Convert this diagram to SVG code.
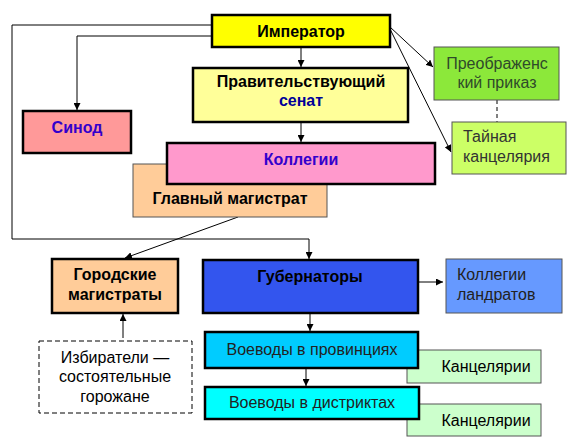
<svg xmlns="http://www.w3.org/2000/svg" width="578" height="443" viewBox="0 0 578 443">
<defs>
<marker id="ah" viewBox="0 0 10 10" refX="10" refY="5" markerWidth="7" markerHeight="7" markerUnits="userSpaceOnUse" orient="auto">
<path d="M0,0 L10,5 L0,10 z" fill="#000"/>
</marker>
<style>
.thick{stroke:#000;stroke-width:2.5}
.thin{stroke:#555;stroke-width:1}
.b{font-family:"Liberation Sans",Arial,sans-serif;font-weight:bold;font-size:16px;text-anchor:middle}
.r{font-family:"Liberation Sans",Arial,sans-serif;font-size:16px}
.c{stroke:#000;stroke-width:1;fill:none}
</style>
</defs>
<rect width="578" height="443" fill="#fff"/>
<g id="connectors">
<polyline class="c" points="212,25 12,25 12,239 309,239 309,259" marker-end="url(#ah)"/>
<polyline class="c" points="212,36 77,36 77,110" marker-end="url(#ah)"/>
<line class="c" x1="301" y1="47" x2="301" y2="67" marker-end="url(#ah)"/>
<line class="c" x1="301" y1="122" x2="301" y2="142" marker-end="url(#ah)"/>
<line class="c" x1="390" y1="27" x2="433" y2="67" marker-end="url(#ah)"/>
<line class="c" x1="390" y1="29" x2="451" y2="152" marker-end="url(#ah)"/>
<line class="c" x1="497" y1="100" x2="497" y2="122" stroke-dasharray="4,3"/>
<line class="c" x1="238" y1="217" x2="125" y2="258" marker-end="url(#ah)"/>
<line class="c" x1="123" y1="338" x2="123" y2="314" marker-end="url(#ah)"/>
<line class="c" x1="418" y1="282" x2="443" y2="282" marker-end="url(#ah)"/>
<line class="c" x1="310" y1="313" x2="310" y2="331" marker-end="url(#ah)"/>
<line class="c" x1="306" y1="368" x2="306" y2="386" marker-end="url(#ah)"/>
</g>
<g id="imperator">
<rect x="212" y="15" width="178" height="32" fill="#ffff00" class="thick"/>
<text class="b" x="301" y="37">Император</text>
</g>
<g id="senat">
<rect x="193" y="68" width="215" height="54" fill="#ffff99" class="thick"/>
<text class="b" x="301" y="87">Правительствующий</text>
<text class="b" x="301" y="106" fill="#000099">сенат</text>
</g>
<g id="sinod">
<rect x="23" y="111" width="108" height="42" fill="#ff9999" class="thick"/>
<text class="b" x="77" y="133" fill="#3300cc">Синод</text>
</g>
<g id="glavmag">
<rect x="133" y="164" width="194" height="53" fill="#ffcc99" class="thin"/>
<text class="b" x="230" y="204">Главный магистрат</text>
</g>
<g id="kollegii">
<rect x="167" y="143" width="268" height="41" fill="#ff99cc" class="thick"/>
<text class="b" x="301" y="165" fill="#3300cc">Коллегии</text>
</g>
<g id="preobr">
<rect x="434" y="47" width="125" height="53" fill="#8ce83a" class="thin"/>
<text class="r" x="497" y="69" text-anchor="middle" fill="#2f4a2a">Преображенс</text>
<text class="r" x="497" y="88" text-anchor="middle" fill="#2f4a2a">кий приказ</text>
</g>
<g id="tainaya">
<rect x="452" y="122" width="114" height="52" fill="#ccff66" class="thin"/>
<text class="r" x="463" y="142" fill="#333">Тайная</text>
<text class="r" x="463" y="162" fill="#333">канцелярия</text>
</g>
<g id="gorodmag">
<rect x="52" y="259" width="126" height="54" fill="#ffcc99" class="thick"/>
<text class="b" x="115" y="280">Городские</text>
<text class="b" x="115" y="300">магистраты</text>
</g>
<g id="izbirateli">
<rect x="39" y="341" width="153" height="72" fill="#fff" stroke="#000" stroke-width="1" stroke-dasharray="5,3"/>
<text class="r" x="115" y="363" text-anchor="middle">Избиратели —</text>
<text class="r" x="115" y="382" text-anchor="middle">состоятельные</text>
<text class="r" x="115" y="402" text-anchor="middle">горожане</text>
</g>
<g id="gubernatory">
<rect x="203" y="260" width="215" height="53" fill="#3355ee" class="thick"/>
<text class="b" x="310" y="282">Губернаторы</text>
</g>
<g id="landraty">
<rect x="446" y="259" width="116" height="54" fill="#6699ff" class="thin"/>
<text class="r" x="457" y="280" fill="#222">Коллегии</text>
<text class="r" x="457" y="300" fill="#222">ландратов</text>
</g>
<g id="kanc1">
<rect x="407" y="350" width="134" height="33" fill="#ccffcc" class="thin"/>
<text class="r" x="486" y="372" text-anchor="middle">Канцелярии</text>
</g>
<g id="voevody-prov">
<rect x="205" y="332" width="213" height="36" fill="#00ccff" class="thick"/>
<text class="r" x="312" y="355" text-anchor="middle" fill="#222">Воеводы в провинциях</text>
</g>
<g id="kanc2">
<rect x="407" y="404" width="134" height="32" fill="#ccffcc" class="thin"/>
<text class="r" x="486" y="426" text-anchor="middle">Канцелярии</text>
</g>
<g id="voevody-distr">
<rect x="205" y="387" width="214" height="32" fill="#00ffff" class="thick"/>
<text class="r" x="312" y="408" text-anchor="middle" fill="#222">Воеводы в дистриктах</text>
</g>
</svg>
